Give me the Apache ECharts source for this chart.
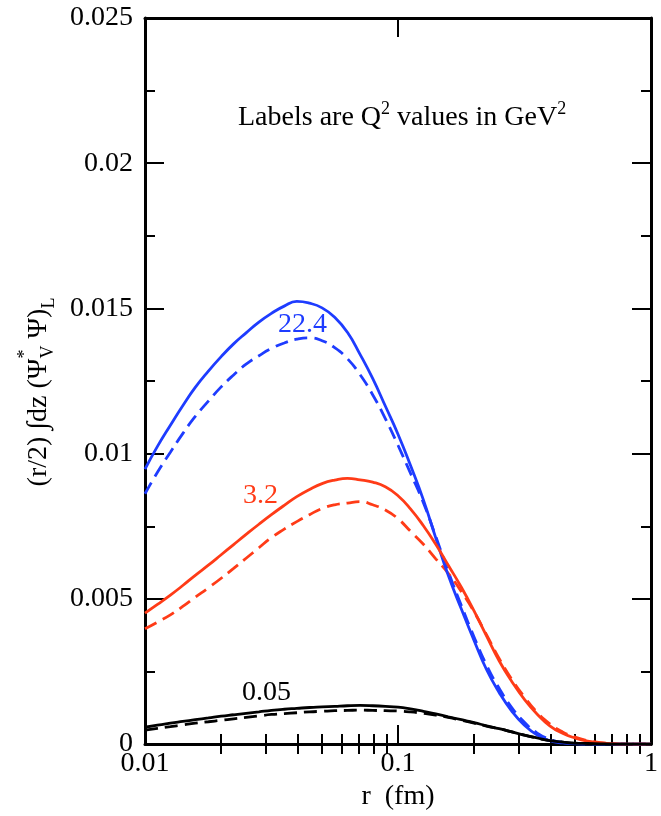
<!DOCTYPE html>
<html><head><meta charset="utf-8">
<script src="https://cdn.jsdelivr.net/npm/echarts@6/dist/echarts.min.js"></script>
<style>html,body{margin:0;padding:0;background:#fff}#c{width:661px;height:816px}</style>
</head><body><div id="c"></div>
<script>
// ---- data (r in fm) ----
const rValues = [0.01, 0.0112, 0.0126, 0.0141, 0.0158, 0.0178, 0.02, 0.0224, 0.0251, 0.0282,
                 0.0316, 0.0355, 0.0398, 0.0447, 0.0501, 0.0562, 0.0631, 0.0708, 0.0794, 0.0891,
                 0.1, 0.112, 0.126, 0.141, 0.158, 0.178, 0.2, 0.224, 0.251, 0.282,
                 0.316, 0.355, 0.398, 0.447, 0.501, 0.562, 0.631, 0.708, 0.794, 0.891, 1.0];
const blueSolid = [0.00947, 0.01025, 0.01098, 0.01165, 0.01228, 0.01284, 0.01334, 0.01378, 0.01416, 0.01453,
                   0.01483, 0.01508, 0.01524, 0.01518, 0.01502, 0.0147, 0.01418, 0.01342, 0.01259, 0.01164,
                   0.01067, 0.0096, 0.00841, 0.0071, 0.00581, 0.00465, 0.00356, 0.00256, 0.00178, 0.00113,
                   0.00065, 0.00031, 0.00012, 0.00004, 0.00001, 0, 0, 0, 0, 0, 0];
const blueDashed = [0.00862, 0.00936, 0.01005, 0.01069, 0.01128, 0.01181, 0.0123, 0.01271, 0.01308, 0.01337,
                    0.01362, 0.01381, 0.01394, 0.01399, 0.01389, 0.01365, 0.01327, 0.01272, 0.01203, 0.01121,
                    0.01029, 0.00933, 0.00831, 0.00715, 0.00594, 0.00477, 0.00368, 0.00271, 0.00192, 0.00125,
                    0.00075, 0.00038, 0.00017, 0.00006, 0.00002, 0, 0, 0, 0, 0, 0];
const redSolid = [0.00451, 0.00481, 0.00513, 0.00546, 0.00581, 0.00616, 0.00652, 0.00687, 0.00722, 0.00757,
                  0.0079, 0.00822, 0.00852, 0.00877, 0.00897, 0.00909, 0.00915, 0.0091, 0.00902, 0.00886,
                  0.00855, 0.0081, 0.00752, 0.00688, 0.00616, 0.0054, 0.00458, 0.00372, 0.00287, 0.00215,
                  0.00154, 0.00103, 0.00063, 0.00037, 0.00021, 0.0001, 0.00004, 0.00001, 0, 0, 0];
const redDashed = [0.00397, 0.0042, 0.00445, 0.00474, 0.00506, 0.00538, 0.00571, 0.00605, 0.0064, 0.00676,
                   0.00711, 0.0074, 0.00766, 0.0079, 0.00811, 0.00824, 0.0083, 0.00835, 0.00824, 0.00806,
                   0.00776, 0.00733, 0.00688, 0.00638, 0.00588, 0.00525, 0.00455, 0.00376, 0.00295, 0.00222,
                   0.00162, 0.00109, 0.0007, 0.00042, 0.00024, 0.00012, 0.00005, 0.00002, 0, 0, 0];
const blackSolid = [0.00058, 0.00065, 0.00072, 0.00078, 0.00084, 0.0009, 0.00096, 0.00101, 0.00106, 0.00111,
                    0.00116, 0.0012, 0.00123, 0.00126, 0.00128, 0.0013, 0.00132, 0.00133, 0.00132, 0.0013,
                    0.00127, 0.00121, 0.00113, 0.00104, 0.00094, 0.00084, 0.00074, 0.00063, 0.00053, 0.00042,
                    0.00031, 0.00021, 0.00012, 0.00007, 0.00003, 0.00002, 0.00001, 0, 0, 0, 0];
const blackDashed = [0.00048, 0.00054, 0.0006, 0.00066, 0.00072, 0.00077, 0.00082, 0.00087, 0.00092, 0.00097,
                     0.00102, 0.00105, 0.00108, 0.00111, 0.00113, 0.00115, 0.00116, 0.00117, 0.00116, 0.00115,
                     0.00114, 0.00111, 0.00106, 0.001, 0.00092, 0.00082, 0.00072, 0.00062, 0.00053, 0.00042,
                     0.00031, 0.00021, 0.00012, 0.00007, 0.00003, 0.00002, 0.00001, 0, 0, 0, 0];

const xTickLabels = ['0.01', '0.1', '1'];
const yTickLabels = ['0', '0.005', '0.01', '0.015', '0.02', '0.025'];
const xMinorTicks = [0.02, 0.03, 0.04, 0.05, 0.06, 0.07, 0.08, 0.09, 0.2, 0.3, 0.4, 0.5, 0.6, 0.7, 0.8, 0.9];

const curveLabels   = ['22.4', '3.2', '0.05'];
const curveLabelR   = [0.0419, 0.0286, 0.0302];
const curveLabelV   = [0.01443, 0.00855, 0.00178];

// ---- styling ----
const FAM = '"Liberation Serif", "Times New Roman", serif';
const F = 28, FS = 18;
const BLUE = '#1e3cff', RED = '#ff3b17', BLACK = '#000000';
const curveColors = [BLUE, RED, BLACK];

const chart = echarts.init(document.getElementById('c'), null, {renderer: 'canvas'});

function mk(name, vals, color, dashed) {
  return {
    type: 'line', name, xAxisIndex: 0, yAxisIndex: 0,
    data: rValues.map((r, i) => [r, vals[i]]),
    smooth: 0.5, showSymbol: false, symbol: 'none',
    lineStyle: {color, width: 2.8, type: dashed ? [13, 7] : 'solid'},
    z: dashed ? 3 : 4, silent: true, animation: false
  };
}

const majorTick = {show: true, inside: true, length: 19, lineStyle: {color: BLACK, width: 2}};
const frameLine = {show: true, onZero: false, lineStyle: {color: BLACK, width: 3}};
const minorTickCfg = {show: true, inside: true, length: 10, lineStyle: {color: BLACK, width: 2},
  customValues: xMinorTicks.map(v => Math.log10(v))};
const labelStyle = {fontFamily: FAM, fontSize: F, color: BLACK};

const option = {
  animation: false,
  backgroundColor: '#ffffff',
  grid: {left: 145, right: 8, top: 18, bottom: 67, containLabel: false},
  xAxis: [
    {type: 'log', logBase: 10, min: 0.01, max: 1, position: 'bottom',
     axisLine: frameLine, axisTick: majorTick, splitLine: {show: false},
     axisLabel: Object.assign({margin: 6, showMinLabel: true, showMaxLabel: true,
       formatter: v => xTickLabels[Math.round(Math.log10(v)) + 2]}, labelStyle),
     name: 'r  (fm)', nameLocation: 'middle', nameGap: 36,
     nameTextStyle: {fontFamily: FAM, fontSize: F, color: BLACK}},
    {type: 'value', min: -2, max: 0, position: 'bottom',
     axisLine: {show: false}, axisTick: minorTickCfg, axisLabel: {show: false}, splitLine: {show: false}},
    {type: 'log', logBase: 10, min: 0.01, max: 1, position: 'top',
     axisLine: frameLine, axisTick: majorTick, axisLabel: {show: false}, splitLine: {show: false}},
    {type: 'value', min: -2, max: 0, position: 'top',
     axisLine: {show: false}, axisTick: minorTickCfg, axisLabel: {show: false}, splitLine: {show: false}}
  ],
  yAxis: [
    {type: 'value', min: 0, max: 0.025, interval: 0.005, position: 'left',
     axisLine: frameLine, axisTick: majorTick,
     minorTick: {show: true, splitNumber: 2, length: 10, lineStyle: {color: BLACK, width: 2}},
     splitLine: {show: false}, minorSplitLine: {show: false},
     axisLabel: Object.assign({margin: 12, showMinLabel: true, showMaxLabel: true,
       formatter: v => yTickLabels[Math.round(v / 0.005)]}, labelStyle)},
    {type: 'value', min: 0, max: 0.025, interval: 0.005, position: 'right',
     axisLine: frameLine, axisTick: majorTick,
     minorTick: {show: true, splitNumber: 2, length: 10, lineStyle: {color: BLACK, width: 2}},
     splitLine: {show: false}, axisLabel: {show: false}}
  ],
  series: [
    mk('22.4 dashed', blueDashed, BLUE, true),
    mk('22.4', blueSolid, BLUE, false),
    mk('3.2 dashed', redDashed, RED, true),
    mk('3.2', redSolid, RED, false),
    mk('0.05 dashed', blackDashed, BLACK, true),
    mk('0.05', blackSolid, BLACK, false)
  ]
};
chart.setOption(option);

// ---- text with super/subscripts ----
const cv = document.createElement('canvas').getContext('2d');
function tw(t, size) { cv.font = size + 'px ' + FAM; return cv.measureText(t).width; }
function txt(t, x, y, size, color) {
  return {type: 'text', x, y, silent: true,
    style: {text: t, font: size + 'px ' + FAM, fill: color || BLACK, align: 'left', verticalAlign: 'middle'}};
}
// pieces: {t, size, dy} or {stack:[{t,dy},{t,dy}], size}
function layout(pieces, centered) {
  let total = 0;
  pieces.forEach(p => {
    p.w = p.stack ? Math.max.apply(null, p.stack.map(s => tw(s.t, p.size))) : tw(p.t, p.size);
    total += p.w;
  });
  let x = centered ? -total / 2 : 0;
  const out = [];
  pieces.forEach(p => {
    if (p.stack) p.stack.forEach(s => out.push(txt(s.t, x, s.dy, p.size)));
    else out.push(txt(p.t, x, p.dy || 0, p.size));
    x += p.w;
  });
  return out;
}

const yTitle = {type: 'group', x: 39, y: 392, rotation: Math.PI / 2, children: layout([
  {t: '(r/2) \u222Bdz (\u03A8', size: F},
  {stack: [{t: '*', dy: -14}, {t: 'V', dy: 9}], size: FS},
  {t: ' \u03A8)', size: F},
  {t: 'L', size: FS, dy: 10}
], true)};

const note = {type: 'group', x: 238, y: 118, children: layout([
  {t: 'Labels are Q', size: F},
  {t: '2', size: FS, dy: -9},
  {t: ' values in GeV', size: F},
  {t: '2', size: FS, dy: -9}
], false)};

const curveTexts = curveLabels.map((s, i) => {
  const p = chart.convertToPixel({xAxisIndex: 0, yAxisIndex: 0}, [curveLabelR[i], curveLabelV[i]]);
  return {type: 'text', x: p[0], y: p[1], silent: true,
    style: {text: s, font: F + 'px ' + FAM, fill: curveColors[i], align: 'center', verticalAlign: 'middle'}};
});

chart.setOption({graphic: {elements: [yTitle, note].concat(curveTexts)}});
</script>
</body></html>
